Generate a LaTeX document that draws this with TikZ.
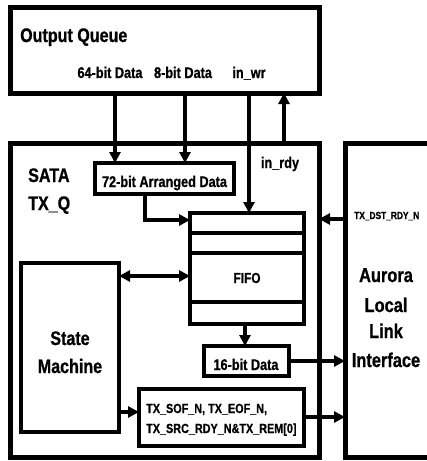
\documentclass[tikz,border=0pt]{standalone}
\usepackage{fontspec}
\setmainfont{Liberation Sans}[FakeStretch=0.82,FakeBold=0.8]
\usetikzlibrary{arrows.meta}
\newcommand{\fsz}[1]{\fontsize{#1}{#1}\selectfont\bfseries}
\begin{document}
\begin{tikzpicture}[x=1pt,y=-1pt,
  outerbox/.style={draw,line width=5pt,inner sep=0pt,outer sep=0pt,anchor=north west},
  innerbox/.style={draw,line width=4.6pt,inner sep=0pt,outer sep=0pt,anchor=north west},
  conn/.style={line width=3.6pt,-{Triangle[length=11pt,width=11pt]}},
  dconn/.style={line width=3.6pt,{Triangle[length=11pt,width=11pt]}-{Triangle[length=11pt,width=11pt]}},
  lbl/.style={inner sep=0pt,anchor=base,font=\fsz{15.5}},
  big/.style={inner sep=0pt,anchor=base,font=\fsz{19.6}},
  txt/.style={inner sep=0pt,anchor=base west}]
\useasboundingbox (0,0) rectangle (427,461);
% boxes
\node[outerbox,minimum width=309pt,minimum height=86pt] (oq) at (10,7) {};
\node[outerbox,minimum width=309pt,minimum height=314pt] (sata) at (10,143) {};
\coordinate (auNW) at (345,143);
\coordinate (auSW) at (345,457);
\draw[line width=5pt] (440,143) -- (auNW) -- (auSW) -- (440,457);
\node[innerbox,minimum width=139pt,minimum height=31pt] (arr) at (95,163) {};
\node[innerbox,minimum width=114pt,minimum height=111pt] (fifo) at (190,213) {};
\draw[line width=4pt] (fifo.west |- 0,233) -- (fifo.east |- 0,233);
\draw[line width=4pt] (fifo.west |- 0,253) -- (fifo.east |- 0,253);
\draw[line width=4pt] (fifo.west |- 0,302) -- (fifo.east |- 0,302);
\node[innerbox,minimum width=98pt,minimum height=169pt] (sm) at (21,263) {};
\node[innerbox,minimum width=85pt,minimum height=30pt] (d16) at (204,346) {};
\node[innerbox,minimum width=165pt,minimum height=57pt] (tx) at (139,389) {};
% texts
\node[txt,font=\fsz{19.6}] (toq) at (20,42) {Output Queue};
\node[lbl] (t64) at (110,78) {64-bit Data};
\node[lbl] (t8) at (183,78) {8-bit Data};
\node[lbl] (twr) at (249,78) {in\_wr};
\node[txt,font=\fsz{19.6}] (tsata) at (28,182) {SATA};
\node[txt,font=\fsz{19.6}] (ttxq) at (28,210) {TX\_Q};
\node[lbl] (trdy) at (280,168) {in\_rdy};
\node[lbl] (tarr) at (164.5,187) {72-bit Arranged Data};
\node[lbl,font=\fsz{14.5}] (tfifo) at (247,283) {FIFO};
\node[big] (tst) at (70,345) {State};
\node[big] (tma) at (70,373) {Machine};
\node[lbl] (t16) at (246,370) {16-bit Data};
\node[txt,font=\fsz{13.2}] (tx1) at (146,413) {TX\_SOF\_N, TX\_EOF\_N,};
\node[txt,font=\fsz{13.2}] (tx2) at (146,433) {TX\_SRC\_RDY\_N\&TX\_REM[0]};
\node[txt,font=\fsz{10.2}] (tdst) at (354,219) {TX\_DST\_RDY\_N};
\node[big,font=\fsz{20}] (ta1) at (386,282) {Aurora};
\node[big,font=\fsz{20}] (ta2) at (386,312) {Local};
\node[big,font=\fsz{20}] (ta3) at (386,338) {Link};
\node[big,font=\fsz{20}] (ta4) at (386,367) {Interface};
% connectors
\draw[conn] (oq.south -| 115,0) -- (arr.north -| 115,0);
\draw[conn] (oq.south -| 185,0) -- (arr.north -| 185,0);
\draw[conn] (oq.south -| 249,0) -- (fifo.north -| 249,0);
\draw[conn] (sata.north -| 284,0) -- (oq.south -| 284,0);
\draw[conn] (arr.south -| 145,0) |- (fifo.west |- 0,220);
\draw[conn] (auNW |- 0,219) -- (sata.east |- 0,219);
\draw[dconn] (sm.east |- 0,276) -- (fifo.west |- 0,276);
\draw[conn] (fifo.south -| 245,0) -- (d16.north -| 245,0);
\draw[conn] (d16.east |- 0,361) -- (auNW |- 0,361);
\draw[conn] (sm.east |- 0,412) -- (tx.west |- 0,412);
\draw[conn] (tx.east |- 0,417) -- (auNW |- 0,417);
\end{tikzpicture}
\end{document}
